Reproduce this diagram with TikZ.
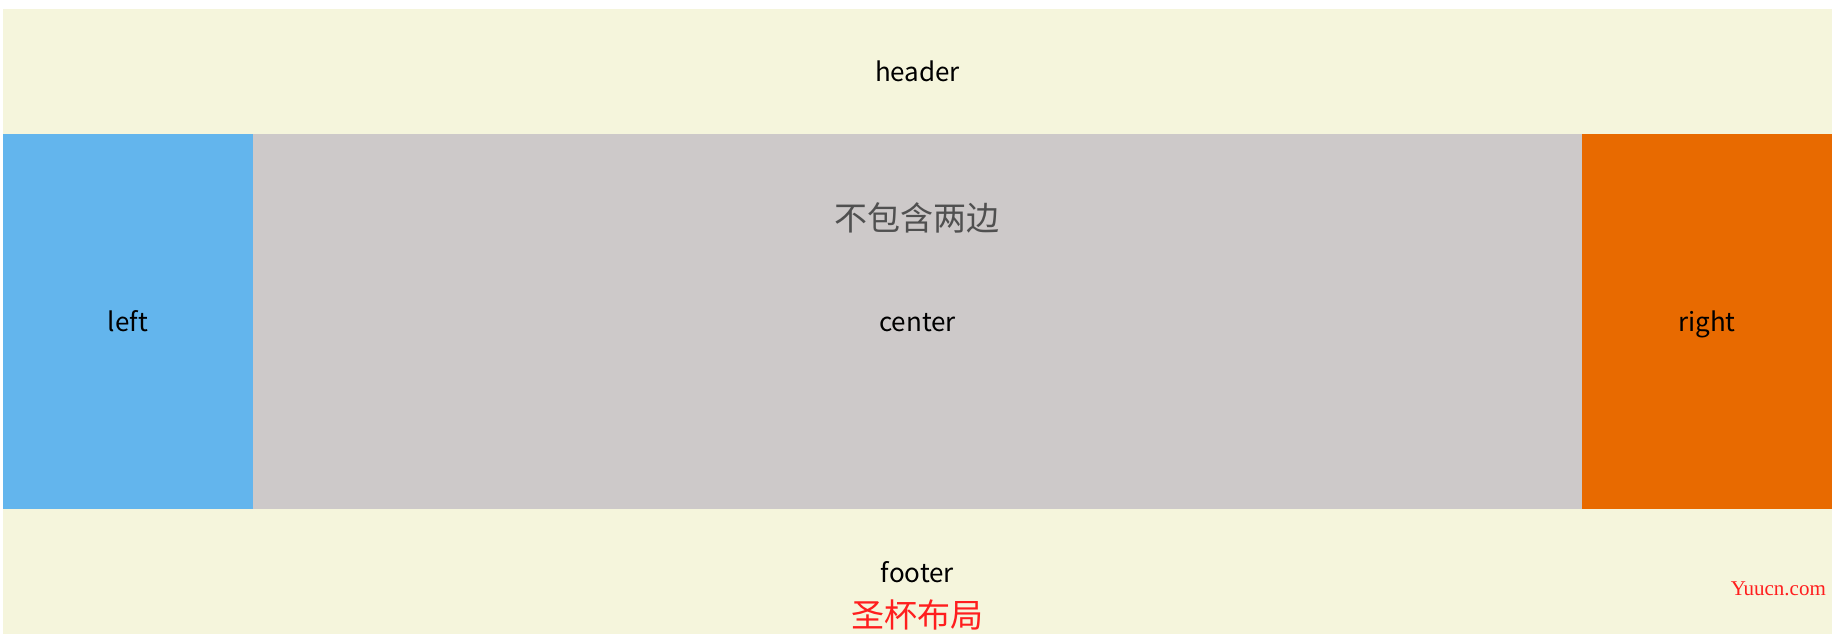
\documentclass[tikz,border=0pt]{standalone}
\usepackage{fontspec}
\setmainfont{Noto Sans CJK SC}
\newfontfamily\wmfont{Liberation Serif}
\definecolor{beige}{RGB}{245,245,220}
\definecolor{sideblue}{RGB}{99,181,237}
\definecolor{midgray}{RGB}{205,201,201}
\definecolor{sideorange}{RGB}{232,106,0}
\definecolor{notegray}{RGB}{80,80,80}
\definecolor{titlered}{RGB}{255,30,30}
\begin{document}
\begin{tikzpicture}[x=1pt,y=1pt]
		\tikzset{
			part/.style={anchor=north west, inner sep=0pt, outer sep=0pt, text=black, text height=21pt, text depth=0pt, font=\fontsize{26}{30}\selectfont},
			label/.style={inner sep=0pt, font=\fontsize{33}{36}\selectfont},
		}
		\useasboundingbox (0,0) rectangle (1838,643);
		\coordinate (top) at (3,634); % top left of the page
		
		% The header and footer rows.
		\node[part, fill=beige, minimum width=1829pt, minimum height=125pt] (header) at (top) {header};
		\node[part, fill=beige, minimum width=1829pt, minimum height=125pt] (footer) at (3,134) {footer};
		
		% The three columns between them.
		\node[part, fill=sideblue, minimum width=250pt, minimum height=375pt] (left) at (header.south west) {left};
		\node[part, fill=midgray, minimum width=1329pt, minimum height=375pt] (center) at (left.north east) {center};
		\node[part, fill=sideorange, minimum width=250pt, minimum height=375pt] (right) at (center.north east) {right};
		
		% The notes on top.
		\node[label, text=notegray] (note) at (917,425) {不包含两边};
		\node[label, text=titlered] (title) at (917,28) {圣杯布局};
		\node[inner sep=0pt, anchor=base east, text=titlered, font=\wmfont\fontsize{21}{24}\selectfont] (mark) at (1826,48) {Yuucn.com};
	\end{tikzpicture}
\end{document}
